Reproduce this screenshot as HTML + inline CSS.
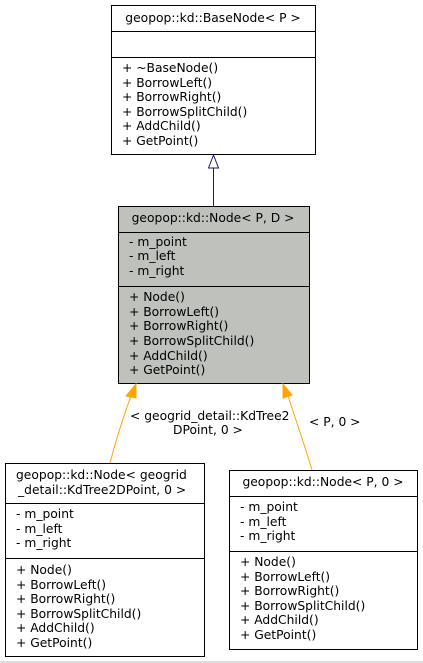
<!DOCTYPE html>
<html><head><style>
html,body{margin:0;padding:0;background:#fff;}
svg{display:block;}
text{font-family:"DejaVu Sans","Liberation Sans",sans-serif;font-size:12.3px;fill:#000;}
</style></head><body>
<svg width="423" height="663" viewBox="0 0 423 663" xmlns="http://www.w3.org/2000/svg">
<rect x="0" y="0" width="423" height="663" fill="#fff"/>
<line x1="0" y1="662" x2="423" y2="662" stroke="#bbb" stroke-width="1"/>
<!-- Box1 -->
<rect x="111.5" y="5.5" width="204" height="149" fill="#fff" stroke="#000"/>
<line x1="111.5" y1="31.5" x2="315.5" y2="31.5" stroke="#000"/>
<line x1="111.5" y1="57.5" x2="315.5" y2="57.5" stroke="#000"/>
<text x="213" y="22" text-anchor="middle">geopop::kd::BaseNode&lt; P &gt;</text>
<text x="122" y="72">+ ~BaseNode()</text>
<text x="122" y="87">+ BorrowLeft()</text>
<text x="122" y="101">+ BorrowRight()</text>
<text x="122" y="116">+ BorrowSplitChild()</text>
<text x="122" y="130">+ AddChild()</text>
<text x="122" y="145">+ GetPoint()</text>
<!-- inheritance arrow -->
<line x1="213.5" y1="168" x2="213.5" y2="206" stroke="#191970"/>
<polygon points="213.5,155 208.5,168 218.5,168" fill="#fff" stroke="#191970"/>
<!-- Box2 -->
<rect x="118.5" y="206.5" width="191" height="177" fill="#bfc1bd" stroke="#000"/>
<line x1="118.5" y1="232.5" x2="309.5" y2="232.5" stroke="#000"/>
<line x1="118.5" y1="286.5" x2="309.5" y2="286.5" stroke="#000"/>
<text x="213" y="222" text-anchor="middle">geopop::kd::Node&lt; P, D &gt;</text>
<text x="129" y="246">- m_point</text>
<text x="129" y="260">- m_left</text>
<text x="129" y="275">- m_right</text>
<text x="129" y="301">+ Node()</text>
<text x="129" y="316">+ BorrowLeft()</text>
<text x="129" y="330">+ BorrowRight()</text>
<text x="129" y="345">+ BorrowSplitChild()</text>
<text x="129" y="360">+ AddChild()</text>
<text x="129" y="374">+ GetPoint()</text>
<!-- orange arrows -->
<path d="M110,463 C116,440 124,415 131,396" fill="none" stroke="orange"/>
<polygon points="136,384 126,396 136,398" fill="orange" stroke="orange"/>
<path d="M312,470 C306,450 296,420 288,396" fill="none" stroke="orange"/>
<polygon points="283,384 283,398 292,395" fill="orange" stroke="orange"/>
<text x="130" y="420">&lt; geogrid_detail::KdTree2</text>
<text x="173" y="434">DPoint, 0 &gt;</text>
<text x="309" y="426">&lt; P, 0 &gt;</text>
<!-- Box3 -->
<rect x="5.5" y="463.5" width="199" height="193" fill="#fff" stroke="#000"/>
<line x1="5.5" y1="503.5" x2="204.5" y2="503.5" stroke="#000"/>
<line x1="5.5" y1="558.5" x2="204.5" y2="558.5" stroke="#000"/>
<text x="16" y="479">geopop::kd::Node&lt; geogrid</text>
<text x="18" y="494">_detail::KdTree2DPoint, 0 &gt;</text>
<text x="16" y="518">- m_point</text>
<text x="16" y="533">- m_left</text>
<text x="16" y="547">- m_right</text>
<text x="16" y="574">+ Node()</text>
<text x="16" y="589">+ BorrowLeft()</text>
<text x="16" y="603">+ BorrowRight()</text>
<text x="16" y="618">+ BorrowSplitChild()</text>
<text x="16" y="632">+ AddChild()</text>
<text x="16" y="647">+ GetPoint()</text>
<!-- Box4 -->
<rect x="229.5" y="470.5" width="188" height="179" fill="#fff" stroke="#000"/>
<line x1="229.5" y1="496.5" x2="417.5" y2="496.5" stroke="#000"/>
<line x1="229.5" y1="551.5" x2="417.5" y2="551.5" stroke="#000"/>
<text x="323" y="486" text-anchor="middle">geopop::kd::Node&lt; P, 0 &gt;</text>
<text x="240" y="511">- m_point</text>
<text x="240" y="526">- m_left</text>
<text x="240" y="540">- m_right</text>
<text x="240" y="566">+ Node()</text>
<text x="240" y="581">+ BorrowLeft()</text>
<text x="240" y="595">+ BorrowRight()</text>
<text x="240" y="610">+ BorrowSplitChild()</text>
<text x="240" y="624">+ AddChild()</text>
<text x="240" y="639">+ GetPoint()</text>
</svg>
</body></html>
